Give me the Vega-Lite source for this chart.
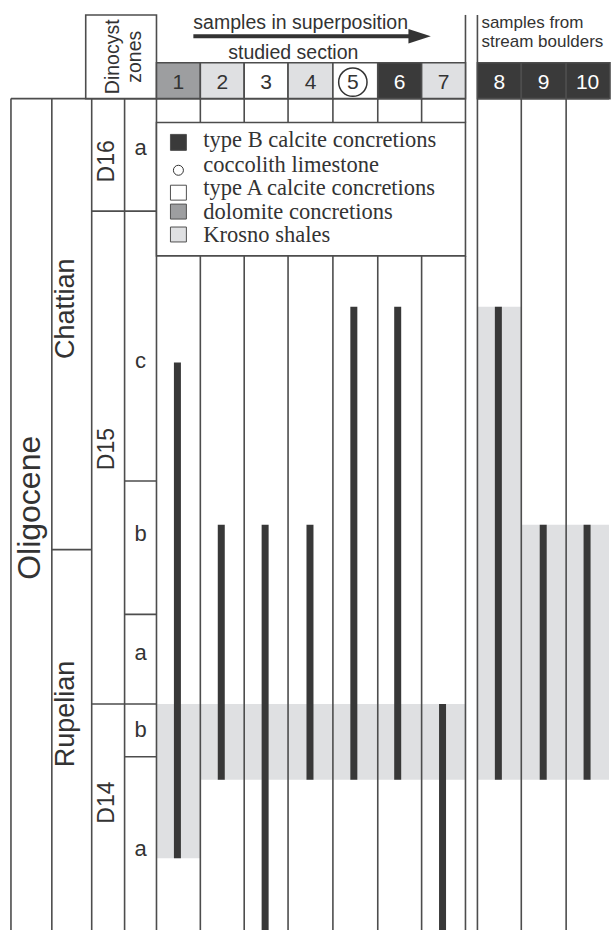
{
  "$schema": "https://vega.github.io/schema/vega-lite/v6.json",
  "width": 611,
  "height": 934,
  "autosize": {"type": "fit", "contains": "padding"},
  "padding": 0,
  "background": "white",
  "config": {"view": {"stroke": null}},
  "datasets": {
    "shales": [
      {"x1": 157, "x2": 201, "top": 707, "bottom": 862},
      {"x1": 201, "x2": 467, "top": 707, "bottom": 783},
      {"x1": 479, "x2": 523, "top": 308, "bottom": 783},
      {"x1": 523, "x2": 611, "top": 527, "bottom": 783}
    ],
    "lines": [
      {"x1": 11, "x2": 11, "y1": 99, "y2": 934},
      {"x1": 52, "x2": 52, "y1": 99, "y2": 934},
      {"x1": 92, "x2": 92, "y1": 99, "y2": 934},
      {"x1": 125, "x2": 125, "y1": 99, "y2": 934},
      {"x1": 157, "x2": 157, "y1": 63, "y2": 934},
      {"x1": 201, "x2": 201, "y1": 63, "y2": 123},
      {"x1": 201, "x2": 201, "y1": 257, "y2": 934},
      {"x1": 245, "x2": 245, "y1": 63, "y2": 123},
      {"x1": 245, "x2": 245, "y1": 257, "y2": 934},
      {"x1": 289, "x2": 289, "y1": 63, "y2": 123},
      {"x1": 289, "x2": 289, "y1": 257, "y2": 934},
      {"x1": 334, "x2": 334, "y1": 63, "y2": 123},
      {"x1": 334, "x2": 334, "y1": 257, "y2": 934},
      {"x1": 379, "x2": 379, "y1": 63, "y2": 123},
      {"x1": 379, "x2": 379, "y1": 257, "y2": 934},
      {"x1": 423, "x2": 423, "y1": 63, "y2": 123},
      {"x1": 423, "x2": 423, "y1": 257, "y2": 934},
      {"x1": 467, "x2": 467, "y1": 15, "y2": 123},
      {"x1": 467, "x2": 467, "y1": 257, "y2": 934},
      {"x1": 479, "x2": 479, "y1": 15, "y2": 934},
      {"x1": 523, "x2": 523, "y1": 63, "y2": 934},
      {"x1": 568, "x2": 568, "y1": 63, "y2": 934},
      {"x1": 157, "x2": 467, "y1": 63, "y2": 63},
      {"x1": 479, "x2": 611, "y1": 63, "y2": 63},
      {"x1": 11, "x2": 467, "y1": 99, "y2": 99},
      {"x1": 479, "x2": 611, "y1": 99, "y2": 99},
      {"x1": 92, "x2": 157, "y1": 212, "y2": 212},
      {"x1": 125, "x2": 157, "y1": 483, "y2": 483},
      {"x1": 52, "x2": 92, "y1": 552, "y2": 552},
      {"x1": 125, "x2": 157, "y1": 617, "y2": 617},
      {"x1": 92, "x2": 157, "y1": 707, "y2": 707},
      {"x1": 125, "x2": 157, "y1": 760, "y2": 760}
    ],
    "frames": [
      {"name": "Dinocyst zones", "x1": 86, "x2": 157, "y1": 15, "y2": 99},
      {"name": "legend", "x1": 157, "x2": 467, "y1": 123, "y2": 257}
    ],
    "samples": [
      {"sample": "1", "lith": "dolomite concretions", "x1": 157, "x2": 201, "xc": 179},
      {"sample": "2", "lith": "Krosno shales", "x1": 201, "x2": 245, "xc": 223},
      {"sample": "3", "lith": "type A calcite concretions", "x1": 245, "x2": 289, "xc": 267},
      {"sample": "4", "lith": "Krosno shales", "x1": 289, "x2": 334, "xc": 311.5},
      {"sample": "5", "lith": "coccolith limestone", "x1": 334, "x2": 379, "xc": 354},
      {"sample": "6", "lith": "type B calcite concretions", "x1": 379, "x2": 423, "xc": 401},
      {"sample": "7", "lith": "Krosno shales", "x1": 423, "x2": 467, "xc": 445},
      {"sample": "8", "lith": "type B calcite concretions", "x1": 479, "x2": 523, "xc": 501},
      {"sample": "9", "lith": "type B calcite concretions", "x1": 523, "x2": 568, "xc": 545.5},
      {"sample": "10", "lith": "type B calcite concretions", "x1": 568, "x2": 612, "xc": 589.5}
    ],
    "ranges": [
      {"sample": "1", "x": 178, "top": 364, "bottom": 862},
      {"sample": "2", "x": 222, "top": 527, "bottom": 783},
      {"sample": "3", "x": 266, "top": 527, "bottom": 934},
      {"sample": "4", "x": 311, "top": 527, "bottom": 783},
      {"sample": "5", "x": 355, "top": 308, "bottom": 783},
      {"sample": "6", "x": 399, "top": 308, "bottom": 783},
      {"sample": "7", "x": 444, "top": 707, "bottom": 934},
      {"sample": "8", "x": 500, "top": 308, "bottom": 783},
      {"sample": "9", "x": 545, "top": 527, "bottom": 783},
      {"sample": "10", "x": 589, "top": 527, "bottom": 783}
    ],
    "legend": [
      {"lith": "type B calcite concretions", "y1": 135, "y2": 151, "ymid": 143, "ybase": 148},
      {"lith": "coccolith limestone", "y1": null, "y2": null, "ymid": 171, "ybase": 172.5},
      {"lith": "type A calcite concretions", "y1": 186, "y2": 201, "ymid": 193, "ybase": 196},
      {"lith": "dolomite concretions", "y1": 205, "y2": 220, "ymid": 212, "ybase": 219.5},
      {"lith": "Krosno shales", "y1": 228, "y2": 243, "ymid": 235, "ybase": 243}
    ],
    "units": [
      {"label": "Oligocene", "level": "epoch", "x": 40, "y": 510},
      {"label": "Chattian", "level": "stage", "x": 74.5, "y": 310},
      {"label": "Rupelian", "level": "stage", "x": 74.5, "y": 717},
      {"label": "D16", "level": "zone", "x": 114.5, "y": 162},
      {"label": "D15", "level": "zone", "x": 114.5, "y": 451},
      {"label": "D14", "level": "zone", "x": 114.5, "y": 806},
      {"label": "Dinocyst", "level": "header", "x": 119, "y": 57},
      {"label": "zones", "level": "header", "x": 141, "y": 57}
    ],
    "subzones": [
      {"label": "a", "y": 156},
      {"label": "c", "y": 370},
      {"label": "b", "y": 543},
      {"label": "a", "y": 663},
      {"label": "b", "y": 740},
      {"label": "a", "y": 860}
    ],
    "headers": [
      {"label": "samples in superposition", "group": "section", "x": 194, "y": 29},
      {"label": "studied section", "group": "section", "x": 229, "y": 59},
      {"label": "samples from", "group": "boulders", "x": 483, "y": 28},
      {"label": "stream boulders", "group": "boulders", "x": 483, "y": 47}
    ],
    "arrow": [
      {"from": 194, "to": 414, "head": 421, "y": 36.5}
    ]
  },
  "layer": [
    {
      "data": {"name": "shales"},
      "mark": {"type": "rect", "fill": "#dfe0e2"},
      "encoding": {
        "x": {"field": "x1", "type": "quantitative", "scale": {"domain": [0, 611], "nice": false, "zero": false}, "axis": null},
        "x2": {"field": "x2"},
        "y": {"field": "top", "type": "quantitative", "scale": {"domain": [0, 934], "nice": false, "zero": false, "reverse": true}, "axis": null},
        "y2": {"field": "bottom"}
      }
    },
    {
      "data": {"name": "lines"},
      "mark": {"type": "rule", "stroke": "#4d4d4d", "strokeWidth": 1.6},
      "encoding": {
        "x": {"field": "x1", "type": "quantitative", "scale": {"domain": [0, 611], "nice": false, "zero": false}, "axis": null},
        "x2": {"field": "x2"},
        "y": {"field": "y1", "type": "quantitative", "scale": {"domain": [0, 934], "nice": false, "zero": false, "reverse": true}, "axis": null},
        "y2": {"field": "y2"}
      }
    },
    {
      "data": {"name": "frames"},
      "mark": {"type": "rect", "fill": "white", "stroke": "#4d4d4d", "strokeWidth": 1.6},
      "encoding": {
        "x": {"field": "x1", "type": "quantitative", "scale": {"domain": [0, 611], "nice": false, "zero": false}, "axis": null},
        "x2": {"field": "x2"},
        "y": {"field": "y1", "type": "quantitative", "scale": {"domain": [0, 934], "nice": false, "zero": false, "reverse": true}, "axis": null},
        "y2": {"field": "y2"}
      }
    },
    {
      "data": {"name": "samples"},
      "mark": {"type": "rect", "stroke": "#4d4d4d", "strokeWidth": 1.6},
      "encoding": {
        "x": {"field": "x1", "type": "quantitative", "scale": {"domain": [0, 611], "nice": false, "zero": false}, "axis": null},
        "x2": {"field": "x2"},
        "y": {"datum": 63, "type": "quantitative", "scale": {"domain": [0, 934], "nice": false, "zero": false, "reverse": true}, "axis": null},
        "y2": {"datum": 99},
        "fill": {"field": "lith", "type": "nominal", "legend": null,
          "scale": {"domain": ["type B calcite concretions", "coccolith limestone", "type A calcite concretions", "dolomite concretions", "Krosno shales"],
                    "range": ["#3a3a3a", "#ffffff", "#ffffff", "#9d9ea0", "#dfe0e2"]}}
      }
    },
    {
      "data": {"name": "ranges"},
      "mark": {"type": "rule", "stroke": "#383838", "strokeWidth": 7, "strokeCap": "butt"},
      "encoding": {
        "x": {"field": "x", "type": "quantitative", "scale": {"domain": [0, 611], "nice": false, "zero": false}, "axis": null},
        "y": {"field": "top", "type": "quantitative", "scale": {"domain": [0, 934], "nice": false, "zero": false, "reverse": true}, "axis": null},
        "y2": {"field": "bottom"}
      }
    },
    {
      "data": {"name": "legend"},
      "transform": [{"filter": "datum.y1 != null"}],
      "mark": {"type": "rect", "stroke": "#505050", "strokeWidth": 1},
      "encoding": {
        "x": {"datum": 171, "type": "quantitative", "scale": {"domain": [0, 611], "nice": false, "zero": false}, "axis": null},
        "x2": {"datum": 187},
        "y": {"field": "y1", "type": "quantitative", "scale": {"domain": [0, 934], "nice": false, "zero": false, "reverse": true}, "axis": null},
        "y2": {"field": "y2"},
        "fill": {"field": "lith", "type": "nominal", "legend": null,
          "scale": {"domain": ["type B calcite concretions", "coccolith limestone", "type A calcite concretions", "dolomite concretions", "Krosno shales"],
                    "range": ["#3a3a3a", "#ffffff", "#ffffff", "#9d9ea0", "#dfe0e2"]}}
      }
    },
    {
      "data": {"name": "legend"},
      "transform": [{"filter": "datum.y1 == null"}],
      "mark": {"type": "point", "shape": "circle", "size": 100, "filled": false, "stroke": "#333333", "strokeWidth": 1, "opacity": 1},
      "encoding": {
        "x": {"datum": 179, "type": "quantitative", "scale": {"domain": [0, 611], "nice": false, "zero": false}, "axis": null},
        "y": {"field": "ymid", "type": "quantitative", "scale": {"domain": [0, 934], "nice": false, "zero": false, "reverse": true}, "axis": null}
      }
    },
    {
      "data": {"name": "legend"},
      "mark": {"type": "text", "font": "Liberation Serif", "fontSize": 22.5, "align": "left", "baseline": "alphabetic", "color": "#333333"},
      "encoding": {
        "x": {"datum": 204, "type": "quantitative", "scale": {"domain": [0, 611], "nice": false, "zero": false}, "axis": null},
        "y": {"field": "ybase", "type": "quantitative", "scale": {"domain": [0, 934], "nice": false, "zero": false, "reverse": true}, "axis": null},
        "text": {"field": "lith"}
      }
    },
    {
      "data": {"name": "samples"},
      "transform": [{"filter": "datum.lith == 'coccolith limestone'"}],
      "mark": {"type": "point", "shape": "circle", "size": 804, "filled": false, "stroke": "#333333", "strokeWidth": 1.5, "opacity": 1},
      "encoding": {
        "x": {"field": "xc", "type": "quantitative", "scale": {"domain": [0, 611], "nice": false, "zero": false}, "axis": null},
        "y": {"datum": 82.5, "type": "quantitative", "scale": {"domain": [0, 934], "nice": false, "zero": false, "reverse": true}, "axis": null}
      }
    },
    {
      "data": {"name": "samples"},
      "mark": {"type": "text", "font": "Liberation Sans", "fontSize": 21, "align": "center", "baseline": "alphabetic"},
      "encoding": {
        "x": {"field": "xc", "type": "quantitative", "scale": {"domain": [0, 611], "nice": false, "zero": false}, "axis": null},
        "y": {"datum": 89.5, "type": "quantitative", "scale": {"domain": [0, 934], "nice": false, "zero": false, "reverse": true}, "axis": null},
        "text": {"field": "sample"},
        "color": {"condition": {"test": "datum.lith == 'type B calcite concretions'", "value": "#ffffff"}, "value": "#333333"}
      }
    },
    {
      "data": {"name": "units"},
      "transform": [{"filter": "datum.level == 'epoch'"}],
      "mark": {"type": "text", "font": "Liberation Sans", "fontSize": 32, "angle": 270, "align": "center", "baseline": "alphabetic", "color": "#333333"},
      "encoding": {
        "x": {"field": "x", "type": "quantitative", "scale": {"domain": [0, 611], "nice": false, "zero": false}, "axis": null},
        "y": {"field": "y", "type": "quantitative", "scale": {"domain": [0, 934], "nice": false, "zero": false, "reverse": true}, "axis": null},
        "text": {"field": "label"}
      }
    },
    {
      "data": {"name": "units"},
      "transform": [{"filter": "datum.level == 'stage'"}],
      "mark": {"type": "text", "font": "Liberation Sans", "fontSize": 27, "angle": 270, "align": "center", "baseline": "alphabetic", "color": "#333333"},
      "encoding": {
        "x": {"field": "x", "type": "quantitative", "scale": {"domain": [0, 611], "nice": false, "zero": false}, "axis": null},
        "y": {"field": "y", "type": "quantitative", "scale": {"domain": [0, 934], "nice": false, "zero": false, "reverse": true}, "axis": null},
        "text": {"field": "label"}
      }
    },
    {
      "data": {"name": "units"},
      "transform": [{"filter": "datum.level == 'zone'"}],
      "mark": {"type": "text", "font": "Liberation Sans", "fontSize": 23, "angle": 270, "align": "center", "baseline": "alphabetic", "color": "#333333"},
      "encoding": {
        "x": {"field": "x", "type": "quantitative", "scale": {"domain": [0, 611], "nice": false, "zero": false}, "axis": null},
        "y": {"field": "y", "type": "quantitative", "scale": {"domain": [0, 934], "nice": false, "zero": false, "reverse": true}, "axis": null},
        "text": {"field": "label"}
      }
    },
    {
      "data": {"name": "units"},
      "transform": [{"filter": "datum.level == 'header'"}],
      "mark": {"type": "text", "font": "Liberation Sans", "fontSize": 19.5, "angle": 270, "align": "center", "baseline": "alphabetic", "color": "#333333"},
      "encoding": {
        "x": {"field": "x", "type": "quantitative", "scale": {"domain": [0, 611], "nice": false, "zero": false}, "axis": null},
        "y": {"field": "y", "type": "quantitative", "scale": {"domain": [0, 934], "nice": false, "zero": false, "reverse": true}, "axis": null},
        "text": {"field": "label"}
      }
    },
    {
      "data": {"name": "subzones"},
      "mark": {"type": "text", "font": "Liberation Sans", "fontSize": 22, "align": "center", "baseline": "alphabetic", "color": "#333333"},
      "encoding": {
        "x": {"datum": 141, "type": "quantitative", "scale": {"domain": [0, 611], "nice": false, "zero": false}, "axis": null},
        "y": {"field": "y", "type": "quantitative", "scale": {"domain": [0, 934], "nice": false, "zero": false, "reverse": true}, "axis": null},
        "text": {"field": "label"}
      }
    },
    {
      "data": {"name": "headers"},
      "transform": [{"filter": "datum.group == 'section'"}],
      "mark": {"type": "text", "font": "Liberation Sans", "fontSize": 19.5, "align": "left", "baseline": "alphabetic", "color": "#333333"},
      "encoding": {
        "x": {"field": "x", "type": "quantitative", "scale": {"domain": [0, 611], "nice": false, "zero": false}, "axis": null},
        "y": {"field": "y", "type": "quantitative", "scale": {"domain": [0, 934], "nice": false, "zero": false, "reverse": true}, "axis": null},
        "text": {"field": "label"}
      }
    },
    {
      "data": {"name": "headers"},
      "transform": [{"filter": "datum.group == 'boulders'"}],
      "mark": {"type": "text", "font": "Liberation Sans", "fontSize": 17, "align": "left", "baseline": "alphabetic", "color": "#333333"},
      "encoding": {
        "x": {"field": "x", "type": "quantitative", "scale": {"domain": [0, 611], "nice": false, "zero": false}, "axis": null},
        "y": {"field": "y", "type": "quantitative", "scale": {"domain": [0, 934], "nice": false, "zero": false, "reverse": true}, "axis": null},
        "text": {"field": "label"}
      }
    },
    {
      "data": {"name": "arrow"},
      "mark": {"type": "rule", "stroke": "#333333", "strokeWidth": 4, "strokeCap": "butt"},
      "encoding": {
        "x": {"field": "from", "type": "quantitative", "scale": {"domain": [0, 611], "nice": false, "zero": false}, "axis": null},
        "x2": {"field": "to"},
        "y": {"field": "y", "type": "quantitative", "scale": {"domain": [0, 934], "nice": false, "zero": false, "reverse": true}, "axis": null}
      }
    },
    {
      "data": {"name": "arrow"},
      "mark": {"type": "point", "shape": "M -1 -0.65 L 1 0 L -1 0.65 Z", "size": 500, "filled": true, "color": "#333333", "opacity": 1},
      "encoding": {
        "x": {"field": "head", "type": "quantitative", "scale": {"domain": [0, 611], "nice": false, "zero": false}, "axis": null},
        "y": {"field": "y", "type": "quantitative", "scale": {"domain": [0, 934], "nice": false, "zero": false, "reverse": true}, "axis": null}
      }
    }
  ]
}
